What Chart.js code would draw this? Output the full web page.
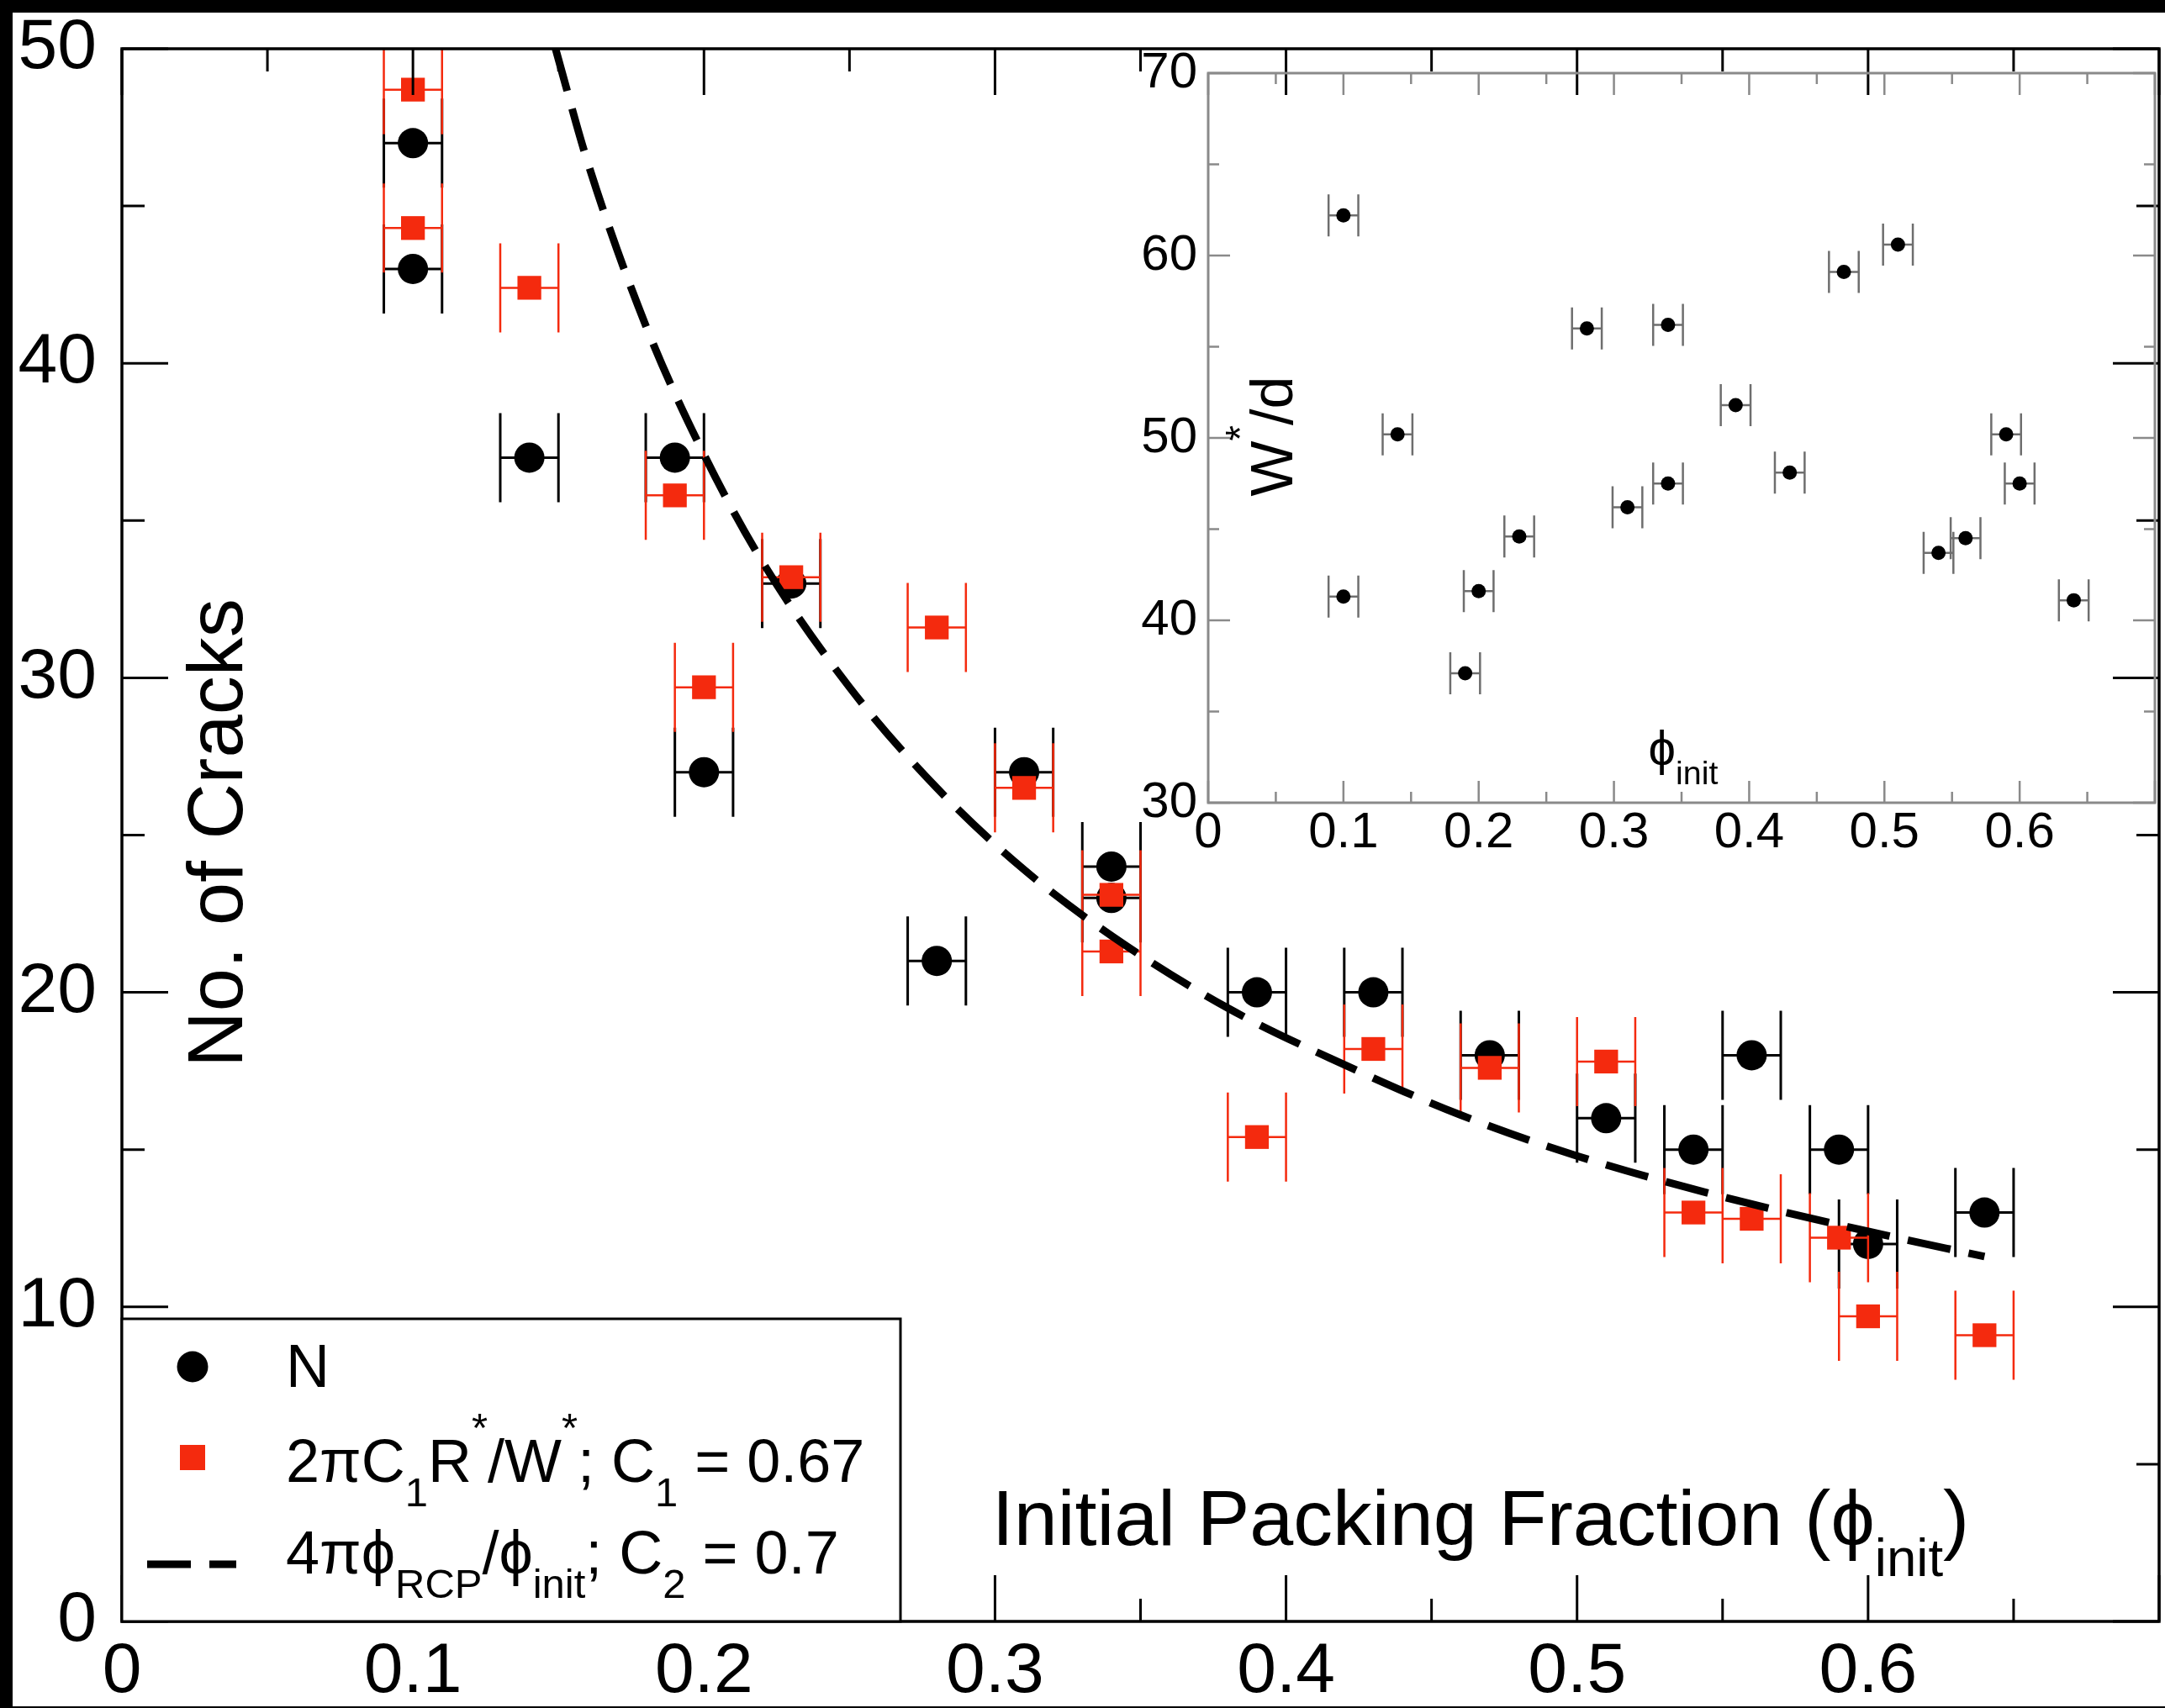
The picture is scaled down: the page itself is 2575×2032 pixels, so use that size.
<!DOCTYPE html>
<html>
<head>
<meta charset="utf-8">
<title>No. of Cracks vs Initial Packing Fraction</title>
<script src="https://cdn.jsdelivr.net/npm/chart.js@4/dist/chart.umd.min.js"></script>
<style>
  html, body { margin: 0; padding: 0; background: #000; }
  body { width: 2575px; height: 2032px; position: relative; overflow: hidden; }
  #main { position: absolute; left: 15px; top: 15px; width: 2560px; height: 2015px; background: #fff; }
  #inset { position: absolute; left: 1300px; top: 57px; width: 1270px; height: 1000px; }
</style>
</head>
<body>
<div id="main"><canvas id="mainChart"></canvas></div>
<div id="inset"><canvas id="insetChart"></canvas></div>
<script>
// values
const phi = [0.1, 0.1, 0.14, 0.19, 0.2, 0.23, 0.28, 0.31, 0.34, 0.34, 0.39, 0.43, 0.47, 0.51, 0.54, 0.56, 0.59, 0.6, 0.64];
const cracksN = [47, 43, 37, 37, 27, 33, 21, 27, 24, 23, 20, 20, 18, 16, 15, 18, 15, 12, 13];
const cracksEst = [48.7, 44.3, 42.4, 35.8, 29.7, 33.2, 31.6, 26.5, 23.1, 21.3, 15.4, 18.2, 17.6, 17.8, 13.0, 12.8, 12.2, 9.7, 9.1];
const phiErr = 0.01;

// dashed model curve
const curvePhi = [0.149, 0.16, 0.18, 0.2, 0.22, 0.25, 0.28, 0.31, 0.34, 0.38, 0.42, 0.46, 0.5, 0.55, 0.6, 0.64];
const curveN = [50, 46.4, 41.2, 37.1, 33.7, 29.7, 26.5, 23.9, 21.8, 19.5, 17.7, 16.1, 14.8, 13.5, 12.4, 11.6];

// inset: W*/d
const insetPhi = [0.1, 0.1, 0.14, 0.19, 0.2, 0.23, 0.28, 0.31, 0.34, 0.34, 0.39, 0.43, 0.47, 0.51, 0.54, 0.56, 0.59, 0.6, 0.64];
const widthPerD = [62.2, 41.3, 50.2, 37.1, 41.6, 44.6, 56.0, 46.2, 56.2, 47.5, 51.8, 48.1, 59.1, 60.6, 43.7, 44.5, 50.2, 47.5, 41.1];
const insetPhiErr = 0.011;

// tick labels
const xTickLabels = ['0', '0.1', '0.2', '0.3', '0.4', '0.5', '0.6', ''];
const yTickLabels = ['0', '10', '20', '30', '40', '50'];
const insetYTickLabels = ['30', '40', '50', '60', '70'];

const FONT = "'Liberation Sans', Arial, Helvetica, sans-serif";
const RED = '#f42a0e';
const PHI = '\u03d5';
Chart.defaults.font.family = FONT;
Chart.defaults.color = '#000';

// text with sub/superscripts: parts = [[text, mode]], mode -1 sub, 1 sup
function drawRich(ctx, parts, x, y, size, align) {
  let w = 0;
  const items = parts.map(([t, m]) => {
    const fs = m ? size * 0.68 : size;
    ctx.font = fs + 'px ' + FONT;
    const iw = ctx.measureText(t).width;
    w += iw;
    return { t, m, fs, iw };
  });
  let cx = align === 'center' ? x - w / 2 : x;
  ctx.textAlign = 'left';
  ctx.textBaseline = 'alphabetic';
  items.forEach(it => {
    ctx.font = it.fs + 'px ' + FONT;
    const dy = it.m < 0 ? size * 0.4 : it.m > 0 ? -size * 0.66 : 0;
    ctx.fillText(it.t, cx, y + dy);
    cx += it.iw;
  });
}

// pin the scale box sizes so the plot area lands where the figure has it
function pinScale(size, horizontal) {
  return s => {
    if (horizontal) s.height = size; else s.width = size;
    s.paddingTop = s.paddingBottom = s.paddingLeft = s.paddingRight = 0;
  };
}

const errorBars = {
  id: 'errorBars',
  beforeDatasetDraw(chart, args, opts) {
    const ds = chart.data.datasets[args.index];
    if (!ds.errX) return;
    const { ctx, chartArea: a, scales: { x, y } } = chart;
    ctx.save();
    ctx.beginPath();
    ctx.rect(a.left, a.top, a.width, a.height);
    ctx.clip();
    ctx.strokeStyle = ds.errColor;
    ctx.lineWidth = ds.errWidth;
    ctx.beginPath();
    ds.data.forEach(p => {
      const x1 = x.getPixelForValue(p.x - ds.errX);
      const x2 = x.getPixelForValue(p.x + ds.errX);
      const py = y.getPixelForValue(p.y);
      ctx.moveTo(x1, py); ctx.lineTo(x2, py);
      ctx.moveTo(x1, py - opts.cap); ctx.lineTo(x1, py + opts.cap);
      ctx.moveTo(x2, py - opts.cap); ctx.lineTo(x2, py + opts.cap);
    });
    ctx.stroke();
    ctx.restore();
  }
};

// box frame with inward major/minor ticks on all four sides
const frameTicks = {
  id: 'frameTicks',
  afterDatasetsDraw(chart, args, o) {
    const { ctx, chartArea: a, scales: { x, y } } = chart;
    const major = (v, step) => Math.abs(v / step - Math.round(v / step)) < 1e-6;
    ctx.save();
    ctx.strokeStyle = o.color;
    ctx.lineWidth = o.tickWidth;
    ctx.beginPath();
    for (let i = 0; x.min + i * o.xMinor <= x.max + 1e-9; i++) {
      const v = x.min + i * o.xMinor;
      const px = x.getPixelForValue(v);
      const len = major(v, o.xMajor) ? o.majorLen : o.minorLen;
      ctx.moveTo(px, a.bottom); ctx.lineTo(px, a.bottom - len);
      ctx.moveTo(px, a.top); ctx.lineTo(px, a.top + len);
    }
    for (let i = 0; y.min + i * o.yMinor <= y.max + 1e-9; i++) {
      const v = y.min + i * o.yMinor;
      const py = y.getPixelForValue(v);
      const len = major(v, o.yMajor) ? o.majorLen : o.minorLen;
      ctx.moveTo(a.left, py); ctx.lineTo(a.left + len, py);
      ctx.moveTo(a.right, py); ctx.lineTo(a.right - len, py);
    }
    ctx.stroke();
    ctx.lineWidth = o.width;
    ctx.strokeRect(a.left, a.top, a.width, a.height);
    ctx.restore();
  }
};

const mainText = {
  id: 'mainText',
  afterDraw(chart) {
    const ctx = chart.ctx;
    const ds = chart.data.datasets;
    ctx.save();
    ctx.fillStyle = '#000';
    // axis titles
    drawRich(ctx, [['Initial Packing Fraction (' + PHI, 0], ['init', -1], [')', 0]], 1746, 1823, 93.5, 'center');
    ctx.save();
    ctx.translate(240, 976);
    ctx.rotate(-Math.PI / 2);
    drawRich(ctx, [['No. of Cracks', 0]], 0, 33, 92, 'center');
    ctx.restore();

    // legend box
    ctx.fillStyle = '#fff';
    ctx.fillRect(130, 1554, 926, 360);
    ctx.strokeStyle = '#000';
    ctx.lineWidth = 3;
    ctx.strokeRect(130, 1554, 926, 360);

    ctx.fillStyle = ds[0].pointBackgroundColor;
    ctx.beginPath();
    ctx.arc(214, 1611, 18.5, 0, Math.PI * 2);
    ctx.fill();
    ctx.fillStyle = ds[1].pointBackgroundColor;
    ctx.fillRect(199, 1704, 30, 30);
    ctx.strokeStyle = ds[2].borderColor;
    ctx.lineWidth = ds[2].borderWidth;
    ctx.setLineDash(ds[2].borderDash);
    ctx.beginPath();
    ctx.moveTo(160, 1846); ctx.lineTo(266, 1846);
    ctx.stroke();
    ctx.setLineDash([]);

    ctx.fillStyle = '#000';
    drawRich(ctx, [['N', 0]], 325, 1635, 72, 'left');
    drawRich(ctx, [['2\u03c0C', 0], ['1', -1], ['R', 0], ['*', 1], ['/W', 0], ['*', 1], ['; C', 0], ['1', -1], [' = 0.67', 0]], 325, 1748, 72, 'left');
    drawRich(ctx, [['4\u03c0' + PHI, 0], ['RCP', -1], ['/' + PHI, 0], ['init', -1], ['; C', 0], ['2', -1], [' = 0.7', 0]], 325, 1857, 72, 'left');
    ctx.restore();
  }
};

const insetText = {
  id: 'insetText',
  afterDraw(chart) {
    const ctx = chart.ctx;
    ctx.save();
    ctx.fillStyle = '#000';
    drawRich(ctx, [[PHI, 0], ['init', -1]], 702, 853, 58, 'center');
    ctx.translate(212, 462);
    ctx.rotate(-Math.PI / 2);
    drawRich(ctx, [['W', 0], ['*', 1], ['/d', 0]], 0, 25, 70, 'center');
    ctx.restore();
  }
};

const mainChart = new Chart(document.getElementById('mainChart'), {
  type: 'scatter',
  data: {
    datasets: [
      {
        label: 'N',
        data: phi.map((x, i) => ({ x, y: cracksN[i] })),
        pointStyle: 'circle',
        pointRadius: 18,
        pointBackgroundColor: '#000',
        pointBorderWidth: 0,
        errX: phiErr, errColor: '#000', errWidth: 3,
        order: 2
      },
      {
        label: '2\u03c0C1R*/W*; C1 = 0.67',
        data: phi.map((x, i) => ({ x, y: cracksEst[i] })),
        pointStyle: 'rect',
        pointRadius: 20,
        pointBackgroundColor: RED,
        pointBorderWidth: 0,
        errX: phiErr, errColor: RED, errWidth: 2.5,
        order: 1
      },
      {
        label: '4\u03c0\u03c6RCP/\u03c6init; C2 = 0.7',
        data: curvePhi.map((x, i) => ({ x, y: curveN[i] })),
        showLine: true,
        borderColor: '#000',
        borderWidth: 9,
        borderDash: [52, 22],
        pointRadius: 0,
        cubicInterpolationMode: 'monotone',
        order: 0
      }
    ]
  },
  options: {
    responsive: true,
    maintainAspectRatio: false,
    animation: false,
    events: [],
    layout: { autoPadding: false, padding: { top: 43, right: 7, left: 0, bottom: 0 } },
    scales: {
      x: {
        type: 'linear', min: 0, max: 0.7,
        grid: { display: false, drawTicks: false },
        border: { display: false },
        ticks: {
          stepSize: 0.1, autoSkip: false, maxRotation: 0, padding: 19,
          font: { size: 84, lineHeight: 1 },
          callback: (v, i) => xTickLabels[i]
        },
        afterFit: pinScale(101, true)
      },
      y: {
        type: 'linear', min: 0, max: 50,
        grid: { display: false, drawTicks: false },
        border: { display: false },
        ticks: {
          stepSize: 10, autoSkip: false, padding: 30,
          font: { size: 84, lineHeight: 1 },
          callback: (v, i) => yTickLabels[i]
        },
        afterFit: pinScale(130, false)
      }
    },
    plugins: {
      legend: { display: false },
      tooltip: { enabled: false },
      errorBars: { cap: 53 },
      frameTicks: { color: '#000', width: 3.5, tickWidth: 3, xMajor: 0.1, xMinor: 0.05, yMajor: 10, yMinor: 5, majorLen: 55, minorLen: 27 }
    }
  },
  plugins: [errorBars, frameTicks, mainText]
});

const insetChart = new Chart(document.getElementById('insetChart'), {
  type: 'scatter',
  data: {
    datasets: [{
      label: 'W*/d',
      data: insetPhi.map((x, i) => ({ x, y: widthPerD[i] })),
      pointStyle: 'circle',
      pointRadius: 8.5,
      pointBackgroundColor: '#000',
      pointBorderWidth: 0,
      errX: insetPhiErr, errColor: '#6e6e6e', errWidth: 2.5
    }]
  },
  options: {
    responsive: true,
    maintainAspectRatio: false,
    animation: false,
    events: [],
    layout: { autoPadding: false, padding: { top: 30, right: 7, left: 0, bottom: 0 } },
    scales: {
      x: {
        type: 'linear', min: 0, max: 0.7,
        grid: { display: false, drawTicks: false },
        border: { display: false },
        ticks: {
          stepSize: 0.1, autoSkip: false, maxRotation: 0, padding: 6,
          font: { size: 60, lineHeight: 1 },
          callback: (v, i) => xTickLabels[i]
        },
        afterFit: pinScale(102, true)
      },
      y: {
        type: 'linear', min: 30, max: 70,
        grid: { display: false, drawTicks: false },
        border: { display: false },
        ticks: {
          stepSize: 10, autoSkip: false, padding: 13,
          font: { size: 60, lineHeight: 1 },
          callback: (v, i) => insetYTickLabels[i]
        },
        afterFit: pinScale(137, false)
      }
    },
    plugins: {
      legend: { display: false },
      tooltip: { enabled: false },
      errorBars: { cap: 25 },
      frameTicks: { color: '#8a8a8a', width: 3, tickWidth: 2.5, xMajor: 0.1, xMinor: 0.05, yMajor: 10, yMinor: 5, majorLen: 26, minorLen: 13 }
    }
  },
  plugins: [errorBars, frameTicks, insetText]
});
</script>
</body>
</html>
